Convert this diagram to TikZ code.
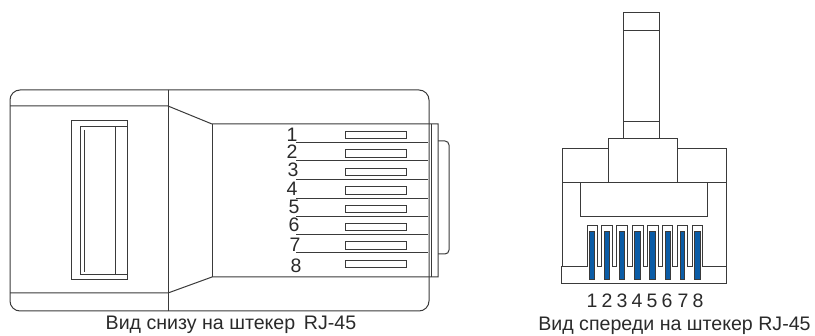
\documentclass[tikz,border=0pt]{standalone}
\usepackage{fontspec}
\setmainfont{Liberation Sans}
\definecolor{ln}{HTML}{3A3A3A}
\definecolor{pinblue}{HTML}{0B5CA6}
\definecolor{txt}{HTML}{2A2A2A}
\begin{document}
\begin{tikzpicture}[x=1pt,y=-1pt,
  outline/.style={draw=ln,line width=1pt},
  thin outline/.style={draw=ln,line width=0.9pt},
  numtext/.style={text=txt,inner sep=0pt,font=\fontsize{19.5}{20}\selectfont},
  captiontext/.style={text=txt,inner sep=0pt,font=\fontsize{19.6}{22}\selectfont},
  contactpin/.style={fill=pinblue,draw=ln,line width=0.6pt}]
\useasboundingbox (0,0) rectangle (815,336);
% --- bottom view
\draw[outline] (168,90) -- (20,90) arc[start angle=270,end angle=180,radius=10] -- (10,301) arc[start angle=180,end angle=90,radius=10] -- (168,311);
\draw[outline] (168,90) -- (419,90) arc[start angle=-90,end angle=0,radius=10] -- (429,301) arc[start angle=0,end angle=90,radius=10] -- (168,311);
\draw[outline] (168,90) -- (168,311);
\draw[outline] (10,106) -- (168,106) -- (212,124) -- (438,124) -- (438,277) -- (212,277) -- (168,293) -- (10,293);
\draw[outline] (212,124) -- (212,277);
\draw[outline] (431,124) -- (431,277);
\draw[outline] (438,141) -- (445,141) arc[start angle=-90,end angle=0,radius=4] -- (449,250) arc[start angle=0,end angle=90,radius=4] -- (438,254);
\draw[outline] (71.5,121) rectangle (127.5,280);
\draw[outline] (80,126.5) rectangle (127.5,275);
\draw[outline] (84.5,130) -- (84.5,272);
\draw[outline] (115,126.5) -- (115,275);
\foreach \y in {142.5,161,180,198.5,217,234.5,253}
  \draw[outline] (296,\y) -- (428,\y);
\foreach \y/\h in {131/7.5,149.5/7.5,168/7.5,186.5/7.5,205/7.5,223.5/7,241.5/7.5,260/7.5}
  \draw[thin outline] (345,\y) rectangle ++(61,\h);
\node[numtext] (n1) at (292,134.5) {1};
\node[numtext] (n2) at (292,152) {2};
\node[numtext] (n3) at (293,170) {3};
\node[numtext] (n4) at (292,189) {4};
\node[numtext] (n5) at (294,207) {5};
\node[numtext] (n6) at (294,225) {6};
\node[numtext] (n7) at (295,245) {7};
\node[numtext] (n8) at (296,266) {8};
\node[captiontext] (cap1) at (231,325) {Вид снизу на штекер\, RJ-45};
% --- front view
\draw[outline] (623,13) rectangle (659,139);
\draw[outline] (623,31) -- (659,31);
\draw[outline] (623,122) -- (659,122);
\draw[outline] (608,183) -- (608,139) -- (677.5,139) -- (677.5,149);
\draw[outline] (677,149) -- (677,183);
\draw[outline] (608,149) -- (562,149) -- (562,183);
\draw[outline] (677,149) -- (726,149) -- (726,183);
\draw[outline] (562,183) -- (726,183);
\draw[outline] (580,183) -- (580,217) -- (707,217) -- (707,183);
\draw[outline] (562,183) -- (562,266);
\draw[outline] (726,183) -- (726,284) -- (561,284) -- (561,266);
\draw[outline] (561,266.5) -- (587,266.5) -- (587,226) -- (597.3,226) -- (597.3,266.5) -- (601.7,266.5)
  -- (601.7,226) -- (612.7,226) -- (612.7,266.5) -- (616.3,266.5)
  -- (616.3,226) -- (627.3,226) -- (627.3,266.5) -- (632,266.5)
  -- (632,226) -- (643,226) -- (643,266.5) -- (647.7,266.5)
  -- (647.7,226) -- (658.3,226) -- (658.3,266.5) -- (662.3,266.5)
  -- (662.3,226) -- (672.7,226) -- (672.7,266.5) -- (677.7,266.5)
  -- (677.7,226) -- (687.7,226) -- (687.7,266.5) -- (692.3,266.5)
  -- (692.3,226) -- (702.7,226) -- (702.7,266.5) -- (726,266.5);
\foreach \a/\b in {589.3/594,604.7/609.3,619/624.7,634.3/640,649.7/655.3,665/670,680/684.7,694.3/700}
  \draw[contactpin] (\a,231) rectangle (\b,279);
\foreach \x/\d in {592/1,607/2,622/3,637/4,652/5,667/6,683/7,698/8}
  \node[numtext] (p\d) at (\x,300.5) {\d};
\node[captiontext] (cap2) at (674.5,326) {Вид спереди на штекер RJ-45};
\end{tikzpicture}
\end{document}
